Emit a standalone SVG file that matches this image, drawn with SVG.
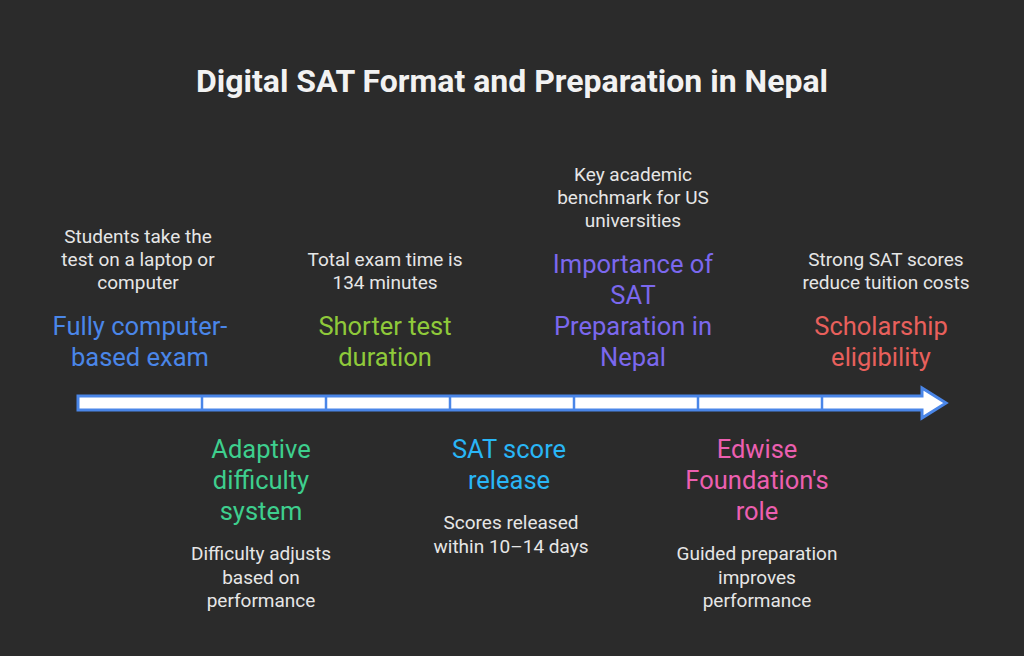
<svg xmlns="http://www.w3.org/2000/svg" width="1024" height="656" viewBox="0 0 1024 656">
<style>
.t{font-family:Roboto,"Liberation Sans",sans-serif;text-anchor:middle}
.title{font-size:32px;font-weight:bold;fill:#f2f2f2}
.h{font-size:25.5px}
.d{font-size:19px;fill:#e6e6e6}
.seg{fill:#ffffff;stroke:#4a86e8;stroke-width:3}
</style>
<rect width="1024" height="656" fill="#2b2b2b"/>
<text class="t title" x="512" y="92">Digital SAT Format and Preparation in Nepal</text>
<g id="connectors">
<path class="seg" d="M78,396 H922 V388 L946,403 L922,418 V410 H78 Z"/>
<g stroke="#4a86e8" stroke-width="2.5">
<line x1="202" y1="396" x2="202" y2="410"/>
<line x1="326" y1="396" x2="326" y2="410"/>
<line x1="450" y1="396" x2="450" y2="410"/>
<line x1="574" y1="396" x2="574" y2="410"/>
<line x1="698" y1="396" x2="698" y2="410"/>
<line x1="822" y1="396" x2="822" y2="410"/>
</g>
</g>
<g id="node1">
<text class="t d" x="138" y="243">Students take the</text>
<text class="t d" x="138" y="266">test on a laptop or</text>
<text class="t d" x="138" y="289">computer</text>
<text class="t h" x="140" y="335" fill="#4a86e8">Fully computer-</text>
<text class="t h" x="140" y="366" fill="#4a86e8">based exam</text>
</g>
<g id="node2">
<text class="t h" x="261" y="458" fill="#3ecf8e">Adaptive</text>
<text class="t h" x="261" y="489" fill="#3ecf8e">difficulty</text>
<text class="t h" x="261" y="520" fill="#3ecf8e">system</text>
<text class="t d" x="261" y="560">Difficulty adjusts</text>
<text class="t d" x="261" y="584">based on</text>
<text class="t d" x="261" y="607">performance</text>
</g>
<g id="node3">
<text class="t d" x="385" y="266">Total exam time is</text>
<text class="t d" x="385" y="289">134 minutes</text>
<text class="t h" x="385" y="335" fill="#8fc93a">Shorter test</text>
<text class="t h" x="385" y="366" fill="#8fc93a">duration</text>
</g>
<g id="node4">
<text class="t h" x="509" y="458" fill="#29b6f6">SAT score</text>
<text class="t h" x="509" y="489" fill="#29b6f6">release</text>
<text class="t d" x="511" y="529">Scores released</text>
<text class="t d" x="511" y="553">within 10–14 days</text>
</g>
<g id="node5">
<text class="t d" x="633" y="181">Key academic</text>
<text class="t d" x="633" y="204">benchmark for US</text>
<text class="t d" x="633" y="227">universities</text>
<text class="t h" x="633" y="273" fill="#7b68ee">Importance of</text>
<text class="t h" x="633" y="304" fill="#7b68ee">SAT</text>
<text class="t h" x="633" y="335" fill="#7b68ee">Preparation in</text>
<text class="t h" x="633" y="366" fill="#7b68ee">Nepal</text>
</g>
<g id="node6">
<text class="t h" x="757" y="458" fill="#ec5fb0">Edwise</text>
<text class="t h" x="757" y="489" fill="#ec5fb0">Foundation's</text>
<text class="t h" x="757" y="520" fill="#ec5fb0">role</text>
<text class="t d" x="757" y="560">Guided preparation</text>
<text class="t d" x="757" y="584">improves</text>
<text class="t d" x="757" y="607">performance</text>
</g>
<g id="node7">
<text class="t d" x="886" y="266">Strong SAT scores</text>
<text class="t d" x="886" y="289">reduce tuition costs</text>
<text class="t h" x="881" y="335" fill="#e8605c">Scholarship</text>
<text class="t h" x="881" y="366" fill="#e8605c">eligibility</text>
</g>
</svg>
